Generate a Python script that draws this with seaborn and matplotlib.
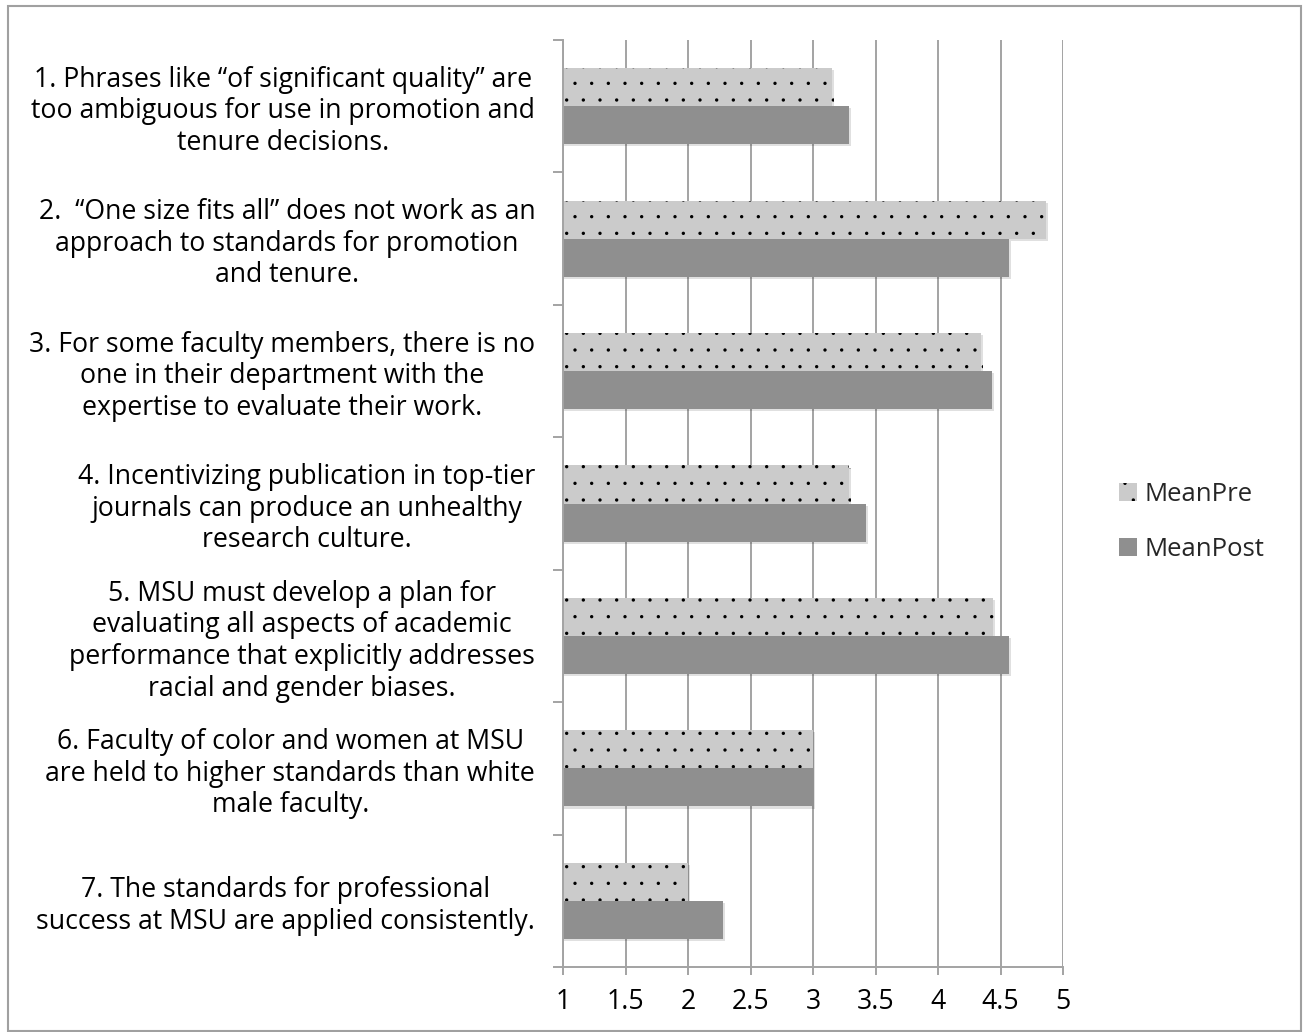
import matplotlib
matplotlib.use("Agg")
import matplotlib.pyplot as plt
import matplotlib.patheffects as pe
from matplotlib.patches import Rectangle, Patch
import seaborn as sns
import pandas as pd

# Survey statements (y-axis categories)
statements = [
    "1. Phrases like \u201cof significant quality\u201d are\ntoo ambiguous for use in promotion and\ntenure decisions.",
    "2.  \u201cOne size fits all\u201d does not work as an\napproach to standards for promotion\nand tenure.",
    "3. For some faculty members, there is no\none in their department with the\nexpertise to evaluate their work.",
    "4. Incentivizing publication in top-tier\njournals can produce an unhealthy\nresearch culture.",
    "5. MSU must develop a plan for\nevaluating all aspects of academic\nperformance that explicitly addresses\nracial and gender biases.",
    "6. Faculty of color and women at MSU\nare held to higher standards than white\nmale faculty.",
    "7. The standards for professional\nsuccess at MSU are applied consistently.",
]
mean_pre = [3.15, 4.86, 4.34, 3.29, 4.44, 3.00, 2.00]
mean_post = [3.29, 4.57, 4.43, 3.42, 4.57, 3.00, 2.28]
series_names = ["MeanPre", "MeanPost"]
x_ticks = [1, 1.5, 2, 2.5, 3, 3.5, 4, 4.5, 5]
x_tick_labels = ["1", "1.5", "2", "2.5", "3", "3.5", "4", "4.5", "5"]

df = pd.DataFrame({
    "statement": statements * 2,
    "series": [series_names[0]] * len(statements) + [series_names[1]] * len(statements),
    "value": mean_pre + mean_post,
})

sns.set_theme(style="white")
plt.rcParams["font.family"] = ["Open Sans", "DejaVu Sans"]
plt.rcParams["hatch.linewidth"] = 0.0

W, H, DPI = 1303, 1032, 100
fig = plt.figure(figsize=(W / DPI, H / DPI), dpi=DPI)
ax = fig.add_axes([563 / W, 1 - 967 / H, 500 / W, 927 / H])

grid_col = "#A3A3A3"
pre_col = "#CBCBCB"
post_col = "#8F8F8F"
font_size = 19.2

sns.barplot(data=df, y="statement", x="value", hue="series", order=statements,
            hue_order=series_names, palette=[pre_col, post_col], orient="h",
            width=0.575, ax=ax, legend=False, saturation=1)

shadow = [pe.SimplePatchShadow(offset=(1.5, -1.5), shadow_rgbFace="#000000", alpha=0.12), pe.Normal()]
for i, cont in enumerate(ax.containers):
    for bar in cont:
        bar.set_path_effects(shadow)
        if i == 0:
            bar.set_hatch(".")
            bar.set_edgecolor("black")
            bar.set_linewidth(0)
        else:
            bar.set_edgecolor("none")

ax.set_xlim(1, 5)
ax.set_ylim(len(statements) - 0.5, -0.5)
ax.set_xticks(x_ticks, x_tick_labels)
ax.set_yticks(range(len(statements)), statements, multialignment="center")
ax.set_yticks([i - 0.5 for i in range(len(statements) + 1)], minor=True)
ax.xaxis.grid(True, color=grid_col, linewidth=1.4)
ax.yaxis.grid(False)
ax.set_axisbelow(True)
ax.set_xlabel("")
ax.set_ylabel("")

ax.tick_params(axis="x", which="major", length=5.8, width=1.4, color=grid_col,
               direction="out", bottom=True, pad=9, labelsize=font_size, labelcolor="black")
ax.tick_params(axis="y", which="major", length=0, pad=20, labelsize=font_size, labelcolor="black")
ax.tick_params(axis="y", which="minor", length=7.2, width=1.4, color=grid_col,
               direction="out", left=True)
for lbl in ax.get_yticklabels():
    lbl.set_linespacing(1.17)

for side in ["top", "right"]:
    ax.spines[side].set_visible(False)
for side in ["left", "bottom"]:
    ax.spines[side].set_color(grid_col)
    ax.spines[side].set_linewidth(1.4)

# Legend
handles = [
    Patch(facecolor=pre_col, edgecolor="black", linewidth=0, hatch="."),
    Patch(facecolor=post_col, edgecolor="none"),
]
fig.legend(handles, series_names, loc="center left",
           bbox_to_anchor=(1119 / W, 1 - 522 / H), bbox_transform=fig.transFigure,
           frameon=False, fontsize=18.5, handlelength=0.7, handleheight=0.7,
           handletextpad=0.3, labelspacing=1.15, borderaxespad=0, borderpad=0)

# Outer frame
fig.patches.append(Rectangle((8 / W, 1 / H), 1 - 10 / W, 1 - 7 / H, transform=fig.transFigure,
                             fill=False, edgecolor="#A0A0A0", linewidth=1.5))

fig.savefig("out.png", dpi=DPI)
